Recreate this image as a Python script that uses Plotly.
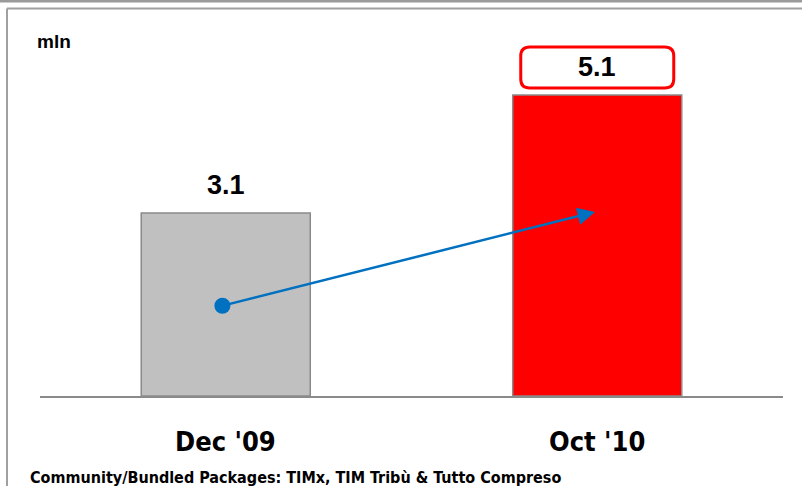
import plotly.graph_objects as go

categories = ["Dec '09", "Oct '10"]
values = [3.1, 5.1]
labels = ["3.1", "5.1"]
bar_colors = ["#C0C0C0", "#FF0000"]
arrow_start_y = 1.53
arrow_end_y = 3.12
unit_label = "mln"
footnote = "Community/Bundled Packages: TIMx, TIM Tribù & Tutto Compreso"

W, H = 802, 486
L, R, T, B = 40, 19, 20, 90
PW, PH = W - L - R, H - T - B
XR = [-0.5, 1.5]
PX_PER_Y = 59.0
YR = [0, PH / PX_PER_Y]
PX_PER_X = PW / (XR[1] - XR[0])


def px_x(p):
    return (p - L) / PW


def py(p):
    return (H - B - p) / PH


COND = "DejaVu Sans Condensed, Liberation Sans Narrow, Arial Narrow, sans-serif"
SANS = "Liberation Sans, Arial, sans-serif"

x = list(range(len(categories)))

fig = go.Figure()
fig.add_trace(go.Bar(
    x=x, y=values, width=0.455,
    marker=dict(color=bar_colors, line=dict(color="#8A8A8A", width=1.5)),
    hoverinfo="skip",
))
fig.add_trace(go.Scatter(
    x=[x[0] - 0.009], y=[arrow_start_y], mode="markers",
    marker=dict(color="#0070C0", size=16), hoverinfo="skip",
))

annotations = []
for i, (v, t) in enumerate(zip(values, labels)):
    annotations.append(dict(
        x=x[i], y=v, xref="x", yref="y", text="<b>" + t + "</b>",
        showarrow=False, yshift=28, yanchor="middle",
        font=dict(family=SANS, size=27, color="#000000"),
    ))
    annotations.append(dict(
        x=x[i], y=py(441), xref="x", yref="paper", text="<b>" + categories[i] + "</b>",
        showarrow=False, yanchor="middle",
        font=dict(family=COND, size=27, color="#000000"),
    ))

# arrow
annotations.append(dict(
    x=x[1] - 0.006, y=arrow_end_y, ax=x[0] - 0.009, ay=arrow_start_y,
    xref="x", yref="y", axref="x", ayref="y", text="", showarrow=True,
    arrowcolor="#0070C0", arrowwidth=2.5, arrowhead=2, arrowsize=1.4,
))
annotations.append(dict(
    x=px_x(35), y=py(42), xref="paper", yref="paper", text="<b>" + unit_label + "</b>",
    showarrow=False, xanchor="left", yanchor="middle",
    font=dict(family=SANS, size=19, color="#000000"),
))
annotations.append(dict(
    x=px_x(28), y=py(477), xref="paper", yref="paper", text="<b>" + footnote + "</b>",
    showarrow=False, xanchor="left", yanchor="middle",
    font=dict(family=COND, size=16, color="#000000"),
))

# rounded box around highlighted label
cx = x[1]
cy = values[1] + 27.5 / PX_PER_Y
hw = 76.5 / PX_PER_X
hh = 20.5 / PX_PER_Y
rx = 9 / PX_PER_X
ry = 9 / PX_PER_Y
x0, x1, y0, y1 = cx - hw, cx + hw, cy - hh, cy + hh
path = (
    f"M {x0 + rx},{y0} L {x1 - rx},{y0} Q {x1},{y0} {x1},{y0 + ry} "
    f"L {x1},{y1 - ry} Q {x1},{y1} {x1 - rx},{y1} "
    f"L {x0 + rx},{y1} Q {x0},{y1} {x0},{y1 - ry} "
    f"L {x0},{y0 + ry} Q {x0},{y0} {x0 + rx},{y0} Z"
)

shapes = [
    dict(type="path", path=path, xref="x", yref="y",
         line=dict(color="#FF0000", width=3), fillcolor="white", layer="above"),
    dict(type="rect", xref="paper", yref="paper", x0=px_x(0), x1=px_x(W), y0=py(2.5), y1=py(0),
         line=dict(width=0), fillcolor="#9A9A9A"),
    dict(type="line", xref="paper", yref="paper", x0=px_x(7), x1=px_x(7), y0=py(8.5), y1=py(H),
         line=dict(color="#A0A0A0", width=2)),
    dict(type="line", xref="paper", yref="paper", x0=px_x(7), x1=px_x(W), y0=py(8.5), y1=py(8.5),
         line=dict(color="#A0A0A0", width=2)),
]

fig.update_layout(
    width=W, height=H,
    margin=dict(l=L, r=R, t=T, b=B),
    plot_bgcolor="white", paper_bgcolor="white",
    showlegend=False,
    annotations=annotations,
    shapes=shapes,
    xaxis=dict(range=XR, showgrid=False, zeroline=False, showticklabels=False,
               showline=True, linecolor="#8A8A8A", linewidth=2, fixedrange=True),
    yaxis=dict(range=YR, showgrid=False, zeroline=False, showticklabels=False,
               showline=False, fixedrange=True),
)

fig.write_html("out.html")
